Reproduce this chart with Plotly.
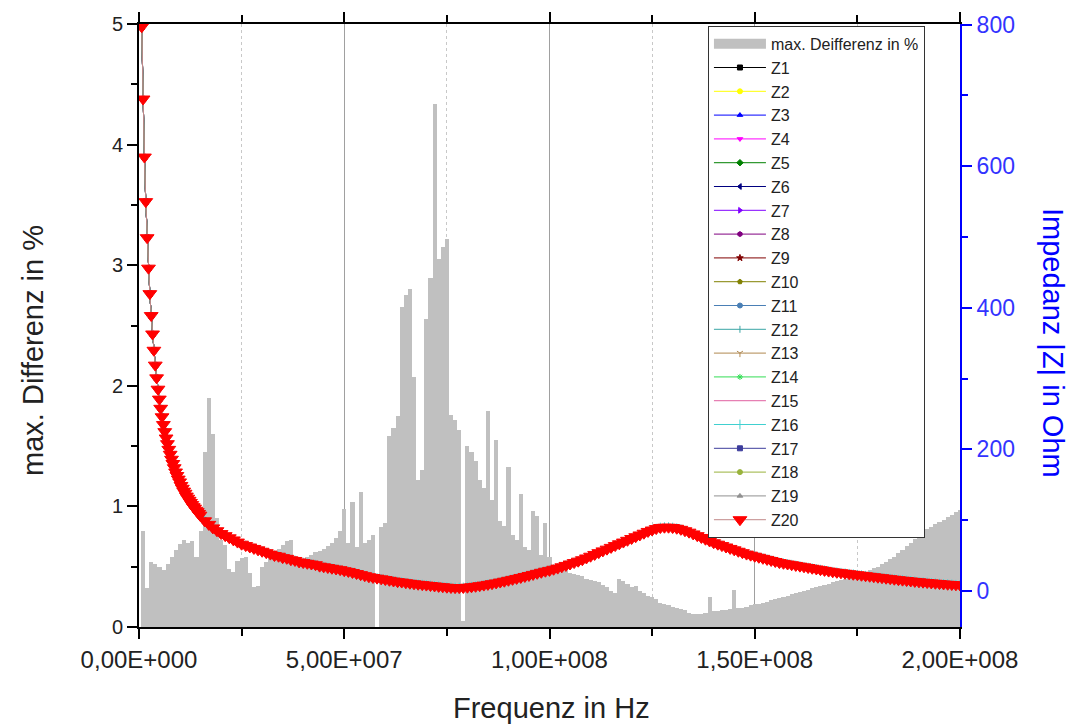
import plotly.graph_objects as go

MHZ = 1e6

# Maximum deviation between the 20 measurements, one bar per 1 MHz step
diff_freq_mhz = list(range(1, 201))
max_diff_pct = [
    0.80, 0.32, 0.54, 0.52, 0.50, 0.47, 0.52, 0.58, 0.64, 0.69,   # 1-10
    0.72, 0.70, 0.71, 0.58, 0.80, 1.45, 1.90, 1.60, 0.90, 0.72,   # 11-20
    0.68, 0.48, 0.46, 0.55, 0.57, 0.58, 0.45, 0.33, 0.34, 0.50,   # 21-30
    0.54, 0.58, 0.62, 0.65, 0.68, 0.71, 0.72, 0.55, 0.55, 0.56,   # 31-40
    0.58, 0.60, 0.62, 0.63, 0.65, 0.67, 0.70, 0.74, 0.80, 0.98,   # 41-50
    0.70, 1.04, 0.66, 1.12, 0.70, 0.72, 0.76, 0.00, 0.83, 0.86,   # 51-60
    1.58, 1.65, 1.75, 2.65, 2.75, 2.80, 2.07, 1.22, 1.30, 2.55,   # 61-70
    2.89, 4.34, 3.05, 3.15, 3.22, 1.76, 1.72, 1.63, 0.05, 1.50,   # 71-80
    1.45, 1.38, 1.22, 1.15, 1.79, 1.05, 1.55, 0.88, 0.84, 1.33,   # 81-90
    0.76, 0.72, 1.10, 0.66, 0.64, 0.96, 0.92, 0.60, 0.86, 0.58,   # 91-100
    0.50, 0.48, 0.47, 0.47, 0.45, 0.44, 0.43, 0.42, 0.40, 0.39,   # 101-110
    0.38, 0.37, 0.35, 0.33, 0.30, 0.28, 0.40, 0.38, 0.36, 0.33,   # 111-120
    0.34, 0.30, 0.28, 0.26, 0.25, 0.23, 0.20, 0.19, 0.18, 0.17,   # 121-130
    0.16, 0.15, 0.14, 0.12, 0.11, 0.11, 0.11, 0.12, 0.25, 0.13,   # 131-140
    0.13, 0.14, 0.14, 0.15, 0.31, 0.16, 0.16, 0.17, 0.18, 0.19,   # 141-150
    0.19, 0.20, 0.21, 0.22, 0.23, 0.24, 0.25, 0.26, 0.27, 0.28,   # 151-160
    0.29, 0.30, 0.31, 0.32, 0.33, 0.34, 0.35, 0.36, 0.37, 0.38,   # 161-170
    0.39, 0.40, 0.41, 0.42, 0.43, 0.44, 0.46, 0.47, 0.49, 0.50,   # 171-180
    0.52, 0.54, 0.56, 0.58, 0.61, 0.64, 0.67, 0.70, 0.73, 0.76,   # 181-190
    0.79, 0.81, 0.83, 0.85, 0.87, 0.89, 0.91, 0.93, 0.95, 0.97,   # 191-200
]

# Impedance magnitude |Z| in Ohm: 0.33 MHz steps up to 15 MHz, then 1 MHz steps
z_freq_mhz = [
    0.66, 0.99, 1.32, 1.65, 1.98, 2.31, 2.64, 2.97, 3.30, 3.63,
    3.96, 4.29, 4.62, 4.95, 5.28, 5.61, 5.94, 6.27, 6.60, 6.93,
    7.26, 7.59, 7.92, 8.25, 8.58, 8.91, 9.24, 9.57, 9.90, 10.23,
    10.56, 10.89, 11.22, 11.55, 11.88, 12.21, 12.54, 12.87, 13.20, 13.53,
    13.86, 14.19, 14.52, 14.85,
] + list(range(16, 201))
z_ohm = [
    797, 695, 613, 550, 499, 456, 420, 389, 363, 340,             # 0.66-3.63
    319, 301, 285, 271, 258, 246, 235, 225, 216, 208,             # 3.96-6.93
    200, 193, 186, 180, 174, 168, 163, 158, 154, 149,             # 7.26-10.23
    145, 141, 138, 134, 131, 128, 125, 122, 119, 117,             # 10.56-13.53
    114, 112, 109.5, 107,                                         # 13.86-14.85
    99, 94, 89, 85, 81,                                           # 16-20
    78, 75, 72, 69, 66, 64, 62, 60, 58, 56,                       # 21-30
    54, 52, 50, 49, 47, 46, 44, 43, 41, 40,                       # 31-40
    39, 38, 37, 35, 34, 33, 32, 31, 30, 28.5,                     # 41-50
    27.5, 26, 24.5, 23, 21.5, 20, 19, 18, 17, 16,                 # 51-60
    15, 14, 13, 12.5, 11.5, 10.8, 10, 9.4, 8.8, 8.2,              # 61-70
    7.6, 7, 6.4, 5.8, 5.2, 4.8, 4.6, 4.6, 4.8, 5.2,               # 71-80
    5.8, 6.5, 7.3, 8.2, 9.2, 10.2, 11.3, 12.5, 13.7, 15,          # 81-90
    16.3, 17.6, 19, 20.4, 21.8, 23.3, 24.8, 26.3, 27.8, 29.0,     # 91-100
    30.6, 32.2, 34, 36, 38, 40, 42, 44, 46.5, 49,                 # 101-110
    51.5, 54, 56.5, 59, 61.5, 64, 66.5, 69, 71.5, 74,             # 111-120
    76.5, 79, 81.5, 84, 86, 88, 89.5, 90, 90, 89.5,               # 121-130
    88.5, 87, 85, 83, 80.5, 78, 75.5, 73, 70.5, 68,               # 131-140
    66, 64, 62, 60, 58, 56, 54, 52, 50.5, 49,                     # 141-150
    47.5, 46, 44.5, 43, 41.5, 40, 39, 38, 37, 36,                 # 151-160
    35, 34, 33, 32, 31, 30, 29, 28, 27, 26.3,                     # 161-170
    25.6, 24.9, 24.2, 23.5, 22.8, 22.1, 21.4, 20.7, 20, 19.3,     # 171-180
    18.6, 17.9, 17.2, 16.5, 15.8, 15.2, 14.6, 14, 13.4, 12.8,     # 181-190
    12.3, 11.8, 11.3, 10.8, 10.3, 9.8, 9.4, 9.0, 8.6, 8.3,        # 191-200
]

series_names = ["Z%d" % i for i in range(1, 21)]
series_line_colors = [
    "#000000", "#ffff00", "#0000ff", "#ff00ff", "#008000",
    "#000080", "#8000ff", "#800080", "#800000", "#808000",
    "#4a7fb5", "#3aa5a5", "#b08850", "#33dd55", "#e060a0",
    "#40d0d0", "#3c3c9c", "#99b33c", "#909090", "#c08888",
]
series_marker_colors = series_line_colors[:19] + ["#ff0000"]
series_symbols = [
    "square", "circle", "triangle-up", "triangle-down", "diamond",
    "triangle-left", "triangle-right", "hexagon", "star", "pentagon",
    "circle", "line-ns", "y-down", "asterisk", "circle",
    "line-ns", "square", "circle", "triangle-up", "triangle-down",
]
series_marker_sizes = [5] * 14 + [0] + [7] + [5] * 3 + [12]

x_tick_vals = [0, 5e7, 1e8, 1.5e8, 2e8]
x_tick_text = ["0,00E+000", "5,00E+007", "1,00E+008", "1,50E+008", "2,00E+008"]
z_tick_vals = [0, 200, 400, 600, 800]

FONT = "Arial, Liberation Sans, sans-serif"
BLUE = "#0000ff"
BAR_GREY = "#c0c0c0"
DIFF_NAME = "max. Deifferenz in %"

fig = go.Figure()

fig.add_trace(go.Bar(
    x=[f * MHZ for f in diff_freq_mhz],
    y=max_diff_pct,
    name=DIFF_NAME,
    legendgroup="diff",
    showlegend=False,
    marker=dict(color=BAR_GREY, line=dict(width=0)),
    yaxis="y",
))
# legend key for the bars: a wide grey block
fig.add_trace(go.Scatter(
    x=[None], y=[None],
    name=DIFF_NAME,
    legendgroup="diff",
    mode="lines",
    line=dict(color=BAR_GREY, width=16),
    yaxis="y",
))

z_x = [f * MHZ for f in z_freq_mhz]
for name, lc, mc, sym, ms in zip(series_names, series_line_colors,
                                 series_marker_colors, series_symbols,
                                 series_marker_sizes):
    fig.add_trace(go.Scatter(
        x=z_x,
        y=z_ohm,
        name=name,
        mode="lines+markers" if ms > 0 else "lines",
        line=dict(color=lc, width=1),
        marker=dict(symbol=sym, size=ms, color=mc,
                    line=dict(color=mc, width=1)),
        yaxis="y2",
    ))

fig.update_layout(
    width=1075,
    height=725,
    margin=dict(l=139, r=115, t=22, b=98),
    paper_bgcolor="white",
    plot_bgcolor="white",
    font=dict(family=FONT, color="#222222"),
    bargap=0,
    showlegend=True,
    legend=dict(
        x=0.693, y=0.997, xanchor="left", yanchor="top",
        bgcolor="white", bordercolor="#333333", borderwidth=1,
        font=dict(family=FONT, size=16, color="#222222"),
        tracegroupgap=0,
        itemwidth=52,
    ),
    xaxis=dict(
        range=[0, 2e8],
        tickvals=x_tick_vals,
        ticktext=x_tick_text,
        ticks="outside", ticklen=10, tickwidth=2, tickcolor="black",
        showline=True, linecolor="black", linewidth=2, mirror="ticks",
        showgrid=True, gridcolor="#a0a0a0", gridwidth=1,
        zeroline=False,
        tickfont=dict(family=FONT, size=24, color="#222222"),
        minor=dict(dtick=2.5e7, tick0=0, ticks="outside", ticklen=7,
                   tickwidth=2, tickcolor="black",
                   showgrid=True, gridcolor="#c8c8c8", griddash="dot",
                   gridwidth=1),
    ),
    yaxis=dict(
        range=[0, 5],
        dtick=1, tick0=0,
        ticks="outside", ticklen=10, tickwidth=2, tickcolor="black",
        showline=True, linecolor="black", linewidth=2,
        showgrid=False, zeroline=False,
        tickfont=dict(family=FONT, size=20, color="#222222"),
        minor=dict(dtick=0.5, tick0=0, ticks="outside", ticklen=6,
                   tickwidth=2, tickcolor="black"),
    ),
    yaxis2=dict(
        overlaying="y", side="right",
        range=[-51, 801],
        tickvals=z_tick_vals,
        ticks="outside", ticklen=10, tickwidth=2, tickcolor=BLUE,
        showline=True, linecolor=BLUE, linewidth=2,
        showgrid=False, zeroline=False,
        tickfont=dict(family=FONT, size=23, color="#3333ff"),
        minor=dict(dtick=100, tick0=0, ticks="outside", ticklen=6,
                   tickwidth=2, tickcolor=BLUE),
    ),
    annotations=[
        dict(text="Frequenz in Hz", xref="paper", yref="paper",
             x=(551 - 139) / 821, y=(627 - 708) / 605,
             xanchor="center", yanchor="middle", showarrow=False,
             font=dict(family=FONT, size=29, color="#222222")),
        dict(text="max. Differenz in %", xref="paper", yref="paper",
             x=(33 - 139) / 821, y=(627 - 350) / 605, textangle=-90,
             xanchor="center", yanchor="middle", showarrow=False,
             font=dict(family=FONT, size=29, color="#222222")),
        dict(text="Impedanz |Z| in Ohm", xref="paper", yref="paper",
             x=(1053 - 139) / 821, y=(627 - 342) / 605, textangle=90,
             xanchor="center", yanchor="middle", showarrow=False,
             font=dict(family=FONT, size=29, color=BLUE)),
    ],
)

fig.write_html("out.html")
